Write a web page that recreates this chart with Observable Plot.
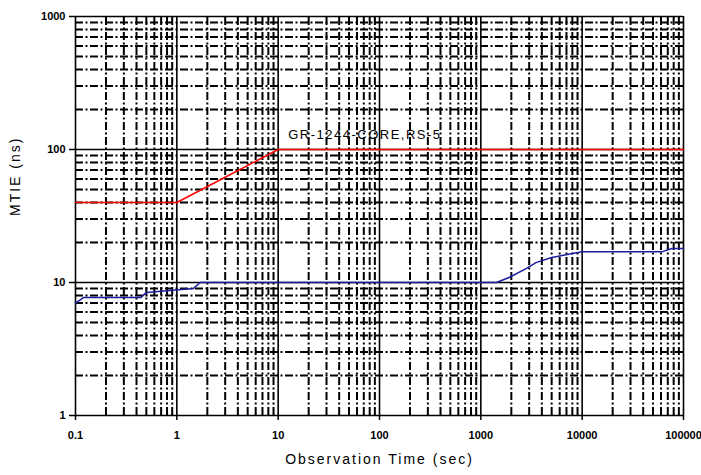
<!DOCTYPE html>
<html><head><meta charset="utf-8">
<script src="https://cdn.jsdelivr.net/npm/d3@7"></script>
<script src="https://cdn.jsdelivr.net/npm/@observablehq/plot@0.6"></script>
<style>
body{margin:0;background:#fff;}
svg{font-family:"Liberation Sans",Arial,sans-serif;}
.spaced text{letter-spacing:2px;}
.spaced1 text{letter-spacing:1.5px;}
</style>
</head><body>
<div id="chart"></div>
<script>
const xMajor = [0.1, 1, 10, 100, 1000, 10000, 100000];
const xTickLabels = ["0.1", "1", "10", "100", "1000", "10000", "100000"];
const yMajor = [1, 10, 100, 1000];
const yTickLabels = ["1", "10", "100", "1000"];
const minorMultipliers = [2, 3, 4, 5, 6, 7, 8, 9];

const maskName = "GR-1244-CORE,RS-5";
const maskX = [0.1, 1, 10, 100000];
const maskY = [40, 40, 100, 100];

const measX = [0.1, 0.12, 0.44, 0.5, 1.45, 1.7, 1425, 1900, 2800, 3500, 5000, 8000, 10000, 61000, 77000, 100000];
const measY = [7.0, 7.7, 7.7, 8.4, 9.0, 10, 10, 10.9, 12.7, 14.1, 15.4, 16.5, 17, 17, 18, 18];

const xMinor = xMajor.slice(0, -1).flatMap(d => minorMultipliers.map(m => d * m));
const yMinor = yMajor.slice(0, -1).flatMap(d => minorMultipliers.map(m => d * m));
const mask = maskX.map((x, i) => ({x, y: maskY[i]}));
const meas = measX.map((x, i) => ({x, y: measY[i]}));
const fmtX = d => xTickLabels[xMajor.indexOf(d)];
const fmtY = d => yTickLabels[yMajor.indexOf(d)];

const dash = "8,2.5,2,2.5";
const chart = Plot.plot({
  width: 701,
  height: 475,
  marginLeft: 75,
  marginRight: 18,
  marginTop: 16,
  marginBottom: 60,
  style: {fontSize: "10px", fontFamily: "Liberation Sans, Arial, sans-serif", color: "#000", background: "#fff"},
  x: {type: "log", domain: [0.1, 100000]},
  y: {type: "log", domain: [1, 1000]},
  marks: [
    Plot.text([mask[2]], {x: "x", y: "y", text: () => maskName, textAnchor: "start", dx: 10, dy: -15, fontSize: 13, fill: "#000", className: "spaced1"}),
    Plot.ruleX(xMinor, {y1: 1, y2: 1000, stroke: "#000", strokeWidth: 2, strokeDasharray: dash}),
    Plot.ruleY(yMinor, {x1: 0.1, x2: 100000, stroke: "#000", strokeWidth: 2, strokeDasharray: dash}),
    Plot.ruleX(xMajor, {y1: 1, y2: 1000, stroke: "#000", strokeWidth: 1.6}),
    Plot.ruleY(yMajor, {x1: 0.1, x2: 100000, stroke: "#000", strokeWidth: 1.6}),
    Plot.axisX({ticks: xMajor, tickFormat: fmtX, tickSize: 5, tickPadding: 11, label: null, fontSize: 11, fontWeight: "bold", strokeWidth: 1.5}),
    Plot.axisY({ticks: yMajor, tickFormat: fmtY, tickSize: 6, tickPadding: 4, label: null, fontSize: 11, fontWeight: "bold", strokeWidth: 1.5}),
    Plot.line(mask, {x: "x", y: "y", stroke: "#ff0000", strokeWidth: 1.6}),
    Plot.line(meas, {x: "x", y: "y", stroke: "#1c1ca0", strokeWidth: 1.5}),
    Plot.text(["MTIE (ns)"], {frameAnchor: "left", dx: -60, rotate: -90, fontSize: 14, fill: "#000", className: "spaced"}),
    Plot.text(["Observation Time (sec)"], {frameAnchor: "bottom", dy: 48, fontSize: 14, fill: "#000", className: "spaced"})
  ]
});
document.getElementById("chart").appendChild(chart);
</script>
</body></html>
